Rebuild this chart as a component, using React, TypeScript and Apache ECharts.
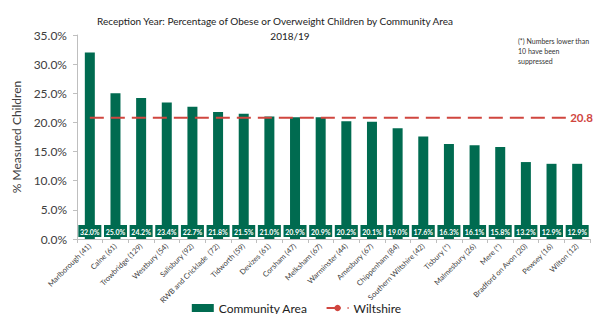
import React, { useEffect, useRef } from "react";
import * as echarts from "echarts";

const categories = [
  "Marlborough (41)",
  "Calne (61)",
  "Trowbridge (129)",
  "Westbury (54)",
  "Salisbury (92)",
  "RWB and Cricklade  (72)",
  "Tidworth (59)",
  "Devizes (61)",
  "Corsham (47)",
  "Melksham (67)",
  "Warminster (44)",
  "Amesbury (67)",
  "Chippenham (84)",
  "Southern Wiltshire (42)",
  "Tisbury (*)",
  "Malmesbury (26)",
  "Mere (*)",
  "Bradford on Avon (20)",
  "Pewsey (16)",
  "Wilton (12)",
];
const communityValues = [32.0, 25.0, 24.2, 23.4, 22.7, 21.8, 21.5, 21.0, 20.9, 20.9, 20.2, 20.1, 19.0, 17.6, 16.3, 16.1, 15.8, 13.2, 12.9, 12.9];
const wiltshireValue = 20.8;
const wiltshireValues = categories.map(() => wiltshireValue);

const FONT = "Lato";
const GREEN = "#006B50";
const RED = "#D0463F";

export default function App() {
  const ref = useRef<HTMLDivElement>(null);
  useEffect(() => {
    if (!ref.current) return;
    const chart = echarts.init(ref.current, undefined, { renderer: "svg" });
    chart.setOption({
      animation: false,
      textStyle: { fontFamily: FONT },
      title: [
        {
          text: "Reception Year: Percentage of Obese or Overweight Children by Community Area",
          left: 270,
          textAlign: "center",
          top: 11,
          textStyle: { fontFamily: FONT, fontSize: 10, fontWeight: "normal", color: "#222" },
        },
        {
          text: "2018/19",
          left: 285,
          textAlign: "center",
          top: 26,
          textStyle: { fontFamily: FONT, fontSize: 10, fontWeight: "normal", color: "#222" },
        },
        {
          text: "(*) Numbers lower than\n10 have been\nsuppressed",
          left: 513,
          top: 31,
          textStyle: { fontFamily: FONT, fontSize: 7, lineHeight: 10, fontWeight: "normal", color: "#333" },
        },
      ],
      grid: { left: 77, right: 3, top: 35, bottom: 75, containLabel: false },
      legend: {
        top: 297,
        left: "center",
        itemWidth: 22,
        itemHeight: 8,
        itemGap: 18,
        textStyle: { fontFamily: FONT, fontSize: 12, color: "#222" },
        data: [
          { name: "Community Area", icon: "rect" },
          { name: "Wiltshire" },
        ],
      },
      xAxis: {
        type: "category",
        data: categories,
        axisLine: { lineStyle: { color: "#BFBFBF" } },
        axisTick: { show: true, length: 4, lineStyle: { color: "#BFBFBF" } },
        axisLabel: { interval: 0, rotate: 45, fontSize: 7.5, color: "#404040", margin: 6, fontFamily: FONT },
      },
      yAxis: {
        type: "value",
        min: 0,
        max: 35,
        interval: 5,
        name: "% Measured Children",
        nameLocation: "middle",
        nameGap: 48,
        nameTextStyle: { fontFamily: FONT, fontSize: 12, color: "#404040" },
        axisLine: { show: true, lineStyle: { color: "#BFBFBF" } },
        axisTick: { show: true, length: 4, lineStyle: { color: "#BFBFBF" } },
        splitLine: { show: false },
        axisLabel: {
          fontSize: 12,
          color: "#404040",
          margin: 10,
          fontFamily: FONT,
          formatter: (v: number) => v.toFixed(1) + "%",
        },
      },
      series: [
        {
          name: "Community Area",
          type: "bar",
          data: communityValues,
          barWidth: 10,
          itemStyle: { color: GREEN },
          label: {
            show: true,
            position: "insideBottom",
            distance: 2,
            formatter: (p: any) => Number(p.value).toFixed(1) + "%",
            color: "#fff",
            fontSize: 7,
            fontWeight: "bold",
            fontFamily: FONT,
            backgroundColor: GREEN,
            padding: [3, 3, 2, 3],
            width: 17,
            align: "center",
          },
          z: 2,
        },
        {
          name: "Wiltshire",
          type: "line",
          data: wiltshireValues,
          symbol: "none",
          lineStyle: { color: RED, width: 2, type: [14, 7] },
          itemStyle: { color: RED },
          endLabel: {
            show: true,
            formatter: () => wiltshireValue.toFixed(1),
            offset: [-15, 0],
            distance: 5,
            color: RED,
            fontSize: 11.5,
            fontWeight: "bold",
            fontFamily: FONT,
            backgroundColor: "#fff",
            padding: [0, 0, 0, 3],
          },
          z: 3,
        },
      ],
    });
    return () => chart.dispose();
  }, []);
  return (
    <div
      ref={ref}
      style={{ position: "fixed", left: 0, top: 0, width: 593, height: 314, background: "#fff" }}
    />
  );
}
